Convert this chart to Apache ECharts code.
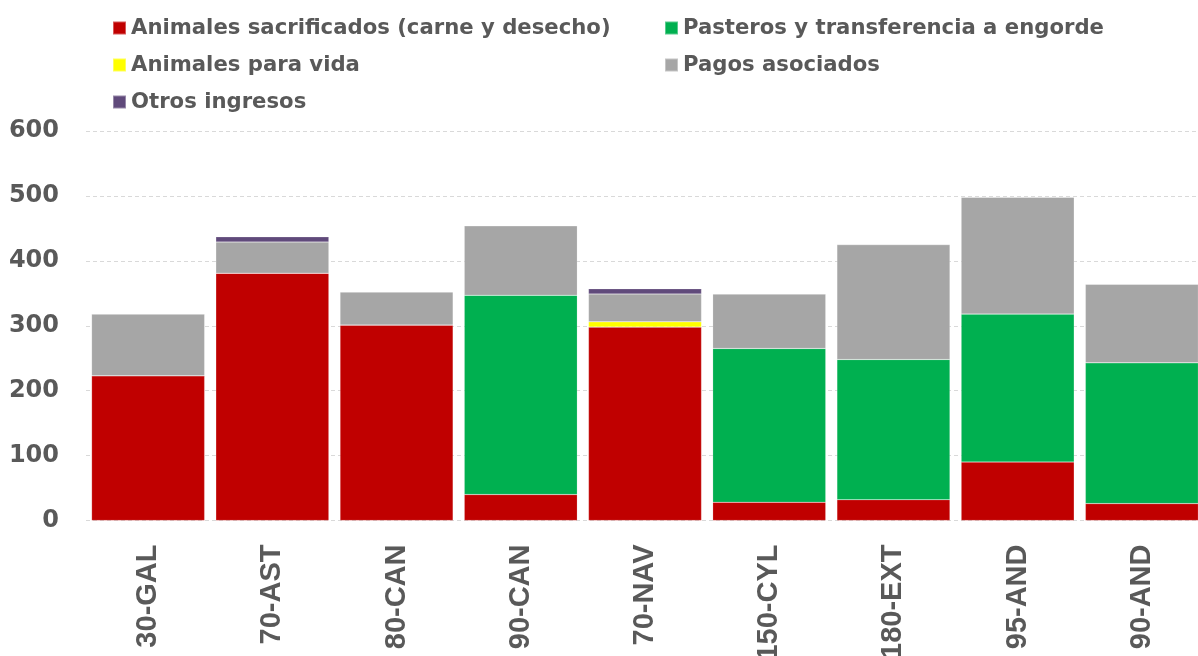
<!DOCTYPE html>
<html>
<head>
<meta charset="utf-8">
<script src="https://cdn.jsdelivr.net/npm/echarts@6/dist/echarts.min.js"></script>
<style>
  html, body { margin: 0; padding: 0; background: #fff; }
  #chart { width: 1198px; height: 656px; }
</style>
</head>
<body>
<div id="chart"></div>
<script>
// categorias y valores
const categories = ['30-GAL', '70-AST', '80-CAN', '90-CAN', '70-NAV', '150-CYL', '180-EXT', '95-AND', '90-AND']
const sacrificados = [223, 381, 301, 40, 298, 28, 32, 90, 26]
const pasteros = [0, 0, 0, 307, 0, 237, 216, 228, 217]
const paraVida = [0, 0, 0, 0, 8, 0, 0, 0, 0]
const pagos = [95, 48, 51, 107, 43, 84, 177, 180, 121]
const otros = [0, 8, 0, 0, 8, 0, 0, 0, 0]
const yTicks = [0, 100, 200, 300, 400, 500, 600]

const txtColor = '#595959'
const legendText = {
  color: txtColor,
  fontFamily: 'DejaVu Sans',
  fontWeight: 'bold',
  fontSize: 21.2,
  lineHeight: 26
}

function bar(name, data, color) {
  return {
    name: name,
    type: 'bar',
    stack: 'total',
    barCategoryGap: '9%',
    itemStyle: {
      color: color,
      borderColor: 'rgba(255,255,255,0.35)',
      borderWidth: 0.5
    },
    data: data
  }
}

const myChart = echarts.init(document.getElementById('chart'))
myChart.setOption({
  animation: false,
  backgroundColor: '#fff',
  legend: [
    {
      data: ['Animales sacrificados (carne y desecho)', 'Animales para vida', 'Otros ingresos'],
      orient: 'vertical',
      left: 107,
      top: 10,
      icon: 'rect',
      itemWidth: 13,
      itemHeight: 13,
      itemGap: 11,
      textStyle: legendText
    },
    {
      data: ['Pasteros y transferencia a engorde', 'Pagos asociados'],
      orient: 'vertical',
      left: 659,
      top: 10,
      icon: 'rect',
      itemWidth: 13,
      itemHeight: 13,
      itemGap: 11,
      textStyle: legendText
    }
  ],
  grid: {
    left: 86,
    top: 131,
    width: 1118,
    height: 389.5,
    containLabel: false,
    outerBoundsMode: 'none'
  },
  xAxis: {
    type: 'category',
    data: categories,
    axisLine: { show: false },
    axisTick: { show: false },
    axisLabel: {
      rotate: 90,
      margin: 24,
      color: txtColor,
      fontFamily: 'Liberation Sans',
      fontWeight: 'bold',
      fontSize: 29
    }
  },
  yAxis: {
    type: 'value',
    min: yTicks[0],
    max: yTicks[yTicks.length - 1],
    interval: 100,
    axisLine: { show: false },
    axisTick: { show: false },
    splitLine: {
      show: true,
      lineStyle: { color: '#d9d9d9', type: [4, 3], width: 1 }
    },
    axisLabel: {
      margin: 27,
      color: txtColor,
      fontFamily: 'DejaVu Sans',
      fontWeight: 'bold',
      fontSize: 24
    }
  },
  series: [
    bar('Animales sacrificados (carne y desecho)', sacrificados, '#C00000'),
    bar('Pasteros y transferencia a engorde', pasteros, '#00B050'),
    bar('Animales para vida', paraVida, '#FFFF00'),
    bar('Pagos asociados', pagos, '#A6A6A6'),
    bar('Otros ingresos', otros, '#604A7B')
  ]
})
</script>
</body>
</html>
